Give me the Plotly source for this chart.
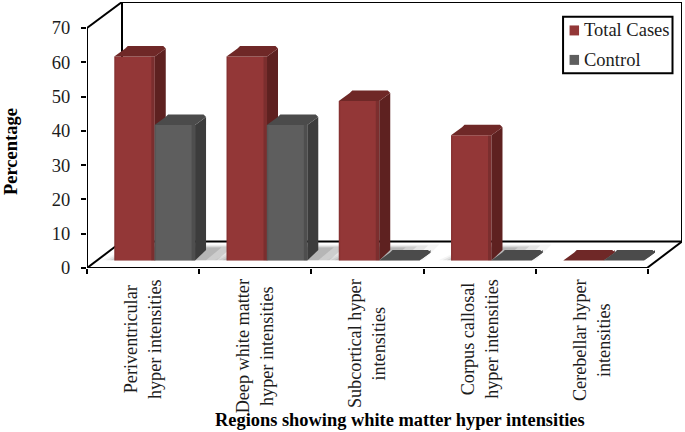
import plotly.graph_objects as go

categories = ["Periventricular<br>hyper intensities", "Deep white matter<br>hyper intensities",
              "Subcortical hyper<br>intensities", "Corpus callosal<br>hyper intensities",
              "Cerebellar hyper<br>intensities"]
total_cases = [59.5, 59.5, 46.5, 36.5, 0]
control = [39.5, 39.5, 0, 0, 0]
y_ticks = [0, 10, 20, 30, 40, 50, 60, 70]
series_names = ["Total Cases", "Control"]

W, H = 685, 432
L, R, T, B = 86.7, 682, 2, 268.5     # plot box px
UX = 112.3                            # px per category
UY = 3.436                            # px per percent
XMAX = (R - L) / UX
YMAX = (B - T) / UY
FONT = "Liberation Serif"
INK = "#1c1c1c"

BW = 40.5 / UX        # bar width
DX = 11 / UX          # bar depth
DY = 10.5 / UY
BASE = 7.5 / UY       # bars sit back on the floor
RED_X0 = (114 - L) / UX
GRAY_X0 = (154.3 - L) / UX
FLOOR_X = 35 / UX     # floor depth
FLOOR_Y = 26.5 / UY

RED = dict(front="#933737", side="#5e2120", top="#6f2827")
GRAY = dict(front="#5e5e5e", side="#3c3c3c", top="#4b4b4b")

fig = go.Figure()


def poly(xs, ys, color, xa, ya):
    fig.add_trace(go.Scatter(x=xs, y=ys, mode="lines", fill="toself", fillcolor=color,
                             line=dict(width=0, color=color), hoverinfo="skip",
                             showlegend=False, xaxis=xa, yaxis=ya))


# soft floor shadows under standing columns
for i, (a, b) in enumerate(zip(total_cases, control)):
    if a <= 0:
        continue
    x0 = i + RED_X0
    x1 = i + (GRAY_X0 if b > 0 else RED_X0) + BW
    for k, alpha in ((3, 0.06), (2, 0.11), (1, 0.16), (0, 0.20)):
        pad = k * 7 / UX
        yb = BASE + 0.1
        yt = BASE + (k * 1.0 + 13) / UY
        poly([x0 - pad * 0.6, x1 + DX + pad * 1.6, x1 + DX * 2.4 + pad * 1.6, x0 + DX * 2],
             [yb, yb, yt, yt], f"rgba(90,90,90,{alpha})", "x", "y")


def series(x0, values, col, name, xa, ya):
    xs = [i + x0 + BW / 2 for i in range(len(values))]
    fig.add_trace(go.Bar(x=xs, y=values, base=[BASE] * len(values), width=BW, name=name,
                         marker=dict(color=col["front"], line=dict(width=0)),
                         showlegend=False, xaxis=xa, yaxis=ya))
    cx, cy = 2.5 / UX, 2.5 / UY    # softened corners and bevel
    for i, v in enumerate(values):
        xl, xr = i + x0, i + x0 + BW
        yt = BASE + v
        if v > 0:
            poly([xr - 3.5 / UX, xr, xr, xr - 3.5 / UX], [BASE, BASE, yt, yt], "rgba(0,0,0,0.16)", xa, ya)
            poly([xl, xl + 1.5 / UX, xl + 1.5 / UX, xl], [BASE, BASE, yt, yt], "rgba(0,0,0,0.08)", xa, ya)
        poly([xr, xr + DX, xr + DX, xr], [BASE, BASE + DY, yt + DY - cy, yt], col["side"], xa, ya)
        poly([xl, xr, xr + DX, xr + DX - cx, xl + DX + cx, xl + DX],
             [yt, yt, yt + DY - cy, yt + DY, yt + DY, yt + DY - cy], col["top"], xa, ya)


series(RED_X0, total_cases, RED, series_names[0], "x2", "y2")
series(GRAY_X0, control, GRAY, series_names[1], "x3", "y3")

line = dict(color="black", width=2)
frame = [
    (0, 0, XMAX - FLOOR_X, 0), (0, 0, 0, 70),
    (0, 70, FLOOR_X, YMAX), (FLOOR_X, YMAX, XMAX, YMAX), (XMAX, YMAX, XMAX, FLOOR_Y),
    (FLOOR_X, YMAX, FLOOR_X, FLOOR_Y), (FLOOR_X, FLOOR_Y, XMAX, FLOOR_Y),
    (0, 0, FLOOR_X, FLOOR_Y), (XMAX - FLOOR_X, 0, XMAX, FLOOR_Y),
]
shapes = [dict(type="line", xref="x", yref="y", x0=a, y0=b, x1=c, y1=d, line=line, layer="below")
          for a, b, c, d in frame]

# paper coordinates are relative to the plot box
px = lambda v: (v - L) / (R - L)
py = lambda v: (B - v) / (B - T)
shapes.append(dict(type="rect", xref="paper", yref="paper", x0=px(563), x1=px(672.5), y0=py(73.3), y1=py(16.7),
                   line=dict(color="black", width=2), fillcolor="white", layer="above"))
swatches = [(RED["front"], 30.5), (GRAY["front"], 60)]
for c, yc in swatches:
    shapes.append(dict(type="rect", xref="paper", yref="paper", x0=px(569.5), x1=px(579), y0=py(yc + 5), y1=py(yc - 5),
                       line=dict(width=0), fillcolor=c, layer="above"))

ann = []
for i, c in enumerate(categories):
    ann.append(dict(x=i + 0.5, y=py(277.5), xref="x", yref="paper", text=c, textangle=-90, showarrow=False,
                    xanchor="center", yanchor="top", align="center",
                    font=dict(family=FONT, size=18.2, color=INK)))
for name, (c, yc) in zip(series_names, swatches):
    ann.append(dict(x=px(582), y=py(yc), xref="paper", yref="paper", text=name, showarrow=False,
                    xanchor="left", yanchor="middle", font=dict(family=FONT, size=18.5, color=INK)))
ann.append(dict(x=px(400), y=py(421), xref="paper", yref="paper", showarrow=False, xanchor="center", yanchor="middle",
                text="<b>Regions showing white matter hyper intensities</b>",
                font=dict(family=FONT, size=18.4, color="black")))
ann.append(dict(x=px(10), y=py(152), xref="paper", yref="paper", showarrow=False, textangle=-90,
                xanchor="center", yanchor="middle", text="<b>Percentage</b>",
                font=dict(family=FONT, size=18.5, color="black")))

hidden = dict(range=[0, XMAX], visible=False)
hiddeny = dict(range=[0, YMAX], visible=False)
fig.update_layout(
    width=W, height=H, autosize=False, plot_bgcolor="white", paper_bgcolor="white",
    margin=dict(l=L, r=W - R, t=T, b=H - B, pad=0), showlegend=False, shapes=shapes, annotations=ann,
    xaxis=dict(range=[0, XMAX], tickmode="array", tickvals=list(range(6)), ticktext=[""] * 6,
               ticks="outside", ticklen=5, tickwidth=2, tickcolor="black", showgrid=False, zeroline=False),
    yaxis=dict(range=[0, YMAX], tickmode="array", tickvals=y_ticks, ticks="outside", ticklen=5, tickwidth=2,
               tickcolor="black", showgrid=False, zeroline=False, ticklabelstandoff=7,
               tickfont=dict(family=FONT, size=18.5, color=INK)),
    xaxis2=dict(hidden, overlaying="x"), yaxis2=dict(hiddeny, overlaying="y", anchor="x2"),
    xaxis3=dict(hidden, overlaying="x"), yaxis3=dict(hiddeny, overlaying="y", anchor="x3"),
)
fig.write_html("out.html", config=dict(displayModeBar=False),
               post_script="document.body.style.margin='0';document.body.style.overflow='hidden';")
